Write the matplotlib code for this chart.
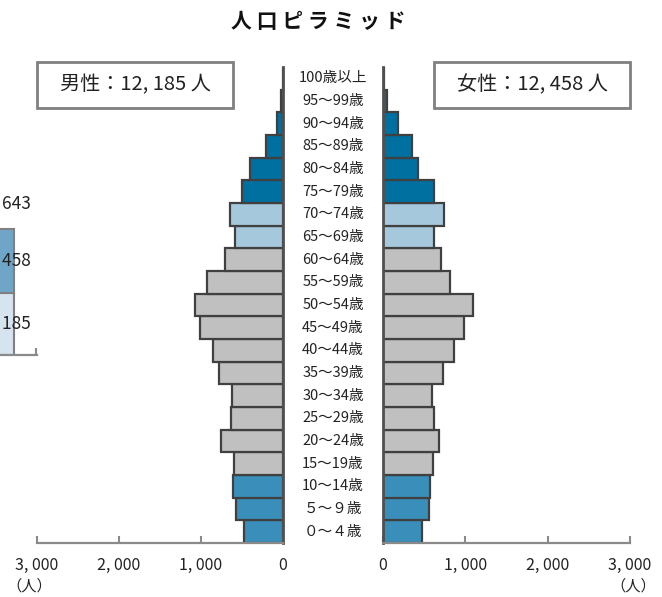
import matplotlib
matplotlib.use('Agg')
import matplotlib.pyplot as plt
import matplotlib.transforms as mtransforms
from matplotlib.patches import Rectangle

plt.rcParams['font.family'] = ['Noto Sans CJK JP', 'DejaVu Sans']

# data
ages = ['０～４歳', '５～９歳', '10～14歳', '15～19歳', '20～24歳', '25～29歳',
        '30～34歳', '35～39歳', '40～44歳', '45～49歳', '50～54歳', '55～59歳',
        '60～64歳', '65～69歳', '70～74歳', '75～79歳', '80～84歳', '85～89歳',
        '90～94歳', '95～99歳', '100歳以上']
male = [475, 573, 610, 597, 756, 634, 622, 780, 854, 1012, 1073,
        927, 707, 585, 646, 500, 402, 207, 73, 24, 5]
female = [474, 560, 572, 608, 681, 620, 596, 730, 863, 985, 1094,
          815, 705, 620, 742, 620, 426, 353, 182, 49, 8]
male_total = 12185
female_total = 12458
ticks = [0, 1000, 2000, 3000]
tick_labels = ['0', '1, 000', '2, 000', '3, 000']

# age group colours: 0-14 / 15-64 / 65-74 / 75+
colors = ['#3a8fba'] * 3 + ['#c0c0c0'] * 10 + ['#a6c8dc'] * 2 + ['#0070a0'] * 6

W, H = 662, 597
fig = plt.figure(figsize=(W / 100, H / 100), dpi=100)

y = list(range(len(ages)))

# male (left)
axL = fig.add_axes([37 / W, 54 / H, 246 / W, 476 / H])
axL.barh(y, male, height=1.0, color=colors, edgecolor='#404040', linewidth=1.6)
axL.set_xlim(3000, 0)
axL.set_ylim(-0.5, 20.5)

# female (right)
axR = fig.add_axes([383 / W, 54 / H, 247 / W, 476 / H])
axR.barh(y, female, height=1.0, color=colors, edgecolor='#404040', linewidth=1.6)
axR.set_xlim(0, 3000)
axR.set_ylim(-0.5, 20.5)

for ax, side in [(axL, 'right'), (axR, 'left')]:
    for s in ['top', 'left', 'right', 'bottom']:
        ax.spines[s].set_visible(False)
    ax.spines[side].set_visible(True)
    ax.spines[side].set_color('#505050')
    ax.spines[side].set_linewidth(2)
    ax.spines['bottom'].set_visible(True)
    ax.spines['bottom'].set_color('#8a8a8a')
    ax.spines['bottom'].set_linewidth(1.6)
    ax.set_yticks([])
    ax.set_xticks(ticks)
    ax.set_xticklabels(tick_labels)
    ax.tick_params(axis='x', direction='in', length=5, width=1.5,
                   color='#8a8a8a', pad=10, labelsize=11.5, labelcolor='#222222')

# age labels in the middle
tr = mtransforms.blended_transform_factory(fig.transFigure, axR.transData)
for i, lab in enumerate(ages):
    fig.text(333 / W, i, lab, transform=tr, ha='center', va='center',
             fontsize=10.5, color='#222222')

# unit labels
fig.text(29 / W, 1 - 586 / H, '（人）', ha='center', va='center', fontsize=11, color='#222222')
fig.text(633 / W, 1 - 586 / H, '（人）', ha='center', va='center', fontsize=11, color='#222222')

# title
fig.text(318 / W, 1 - 22 / H, '人 口 ピ ラ ミ ッ ド', ha='center', va='center',
         fontsize=15, fontweight='bold', color='#111111')

# total boxes
for x0, txt in [(37, '男性：12, 185 人'), (434, '女性：12, 458 人')]:
    fig.patches.append(Rectangle((x0 / W, 1 - 108 / H), 196 / W, 46 / H,
                                 transform=fig.transFigure, facecolor='white',
                                 edgecolor='#808080', linewidth=2))
    fig.text((x0 + 98) / W, 1 - 85 / H, txt, ha='center', va='center',
             fontsize=14.5, color='#222222')

# cut-off neighbouring stacked bar at the left edge
axA = fig.add_axes([-60 / W, (H - 355) / H, 97 / W, 180 / H])
axA.bar([0], [male_total], width=0.526, color='#d6e4ef', edgecolor='#808080', linewidth=1.5)
axA.bar([0], [female_total], bottom=[male_total], width=0.526, color='#6fa5c8',
        edgecolor='#808080', linewidth=1.5)
axA.set_xlim(-0.5, 0.5)
axA.set_ylim(0, 35200)
for s in ['top', 'left', 'right']:
    axA.spines[s].set_visible(False)
axA.spines['bottom'].set_color('#8a8a8a')
axA.spines['bottom'].set_linewidth(1.6)
axA.set_yticks([])
axA.set_xticks([0.49])
axA.set_xticklabels([])
axA.tick_params(axis='x', direction='in', length=5, width=1.5, color='#8a8a8a')
axA.text(0.44, male_total / 2, '12, 185', ha='right', va='center', fontsize=12.5, color='#222222')
axA.text(0.44, male_total + female_total / 2, '12, 458', ha='right', va='center',
         fontsize=12.5, color='#222222')
axA.annotate('24, 643', xy=(0.44, male_total + female_total), xytext=(0, 18),
             textcoords='offset points', ha='right', va='center', fontsize=12.5, color='#222222')
axA.text(0.71, -0.16, '（人）', transform=axA.transAxes, ha='right', va='center',
         fontsize=11, color='#222222')

fig.savefig('out.png', dpi=100)
